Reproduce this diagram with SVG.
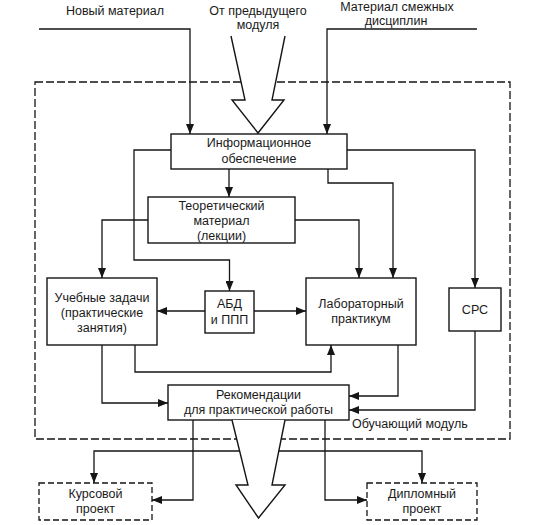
<svg xmlns="http://www.w3.org/2000/svg" width="537" height="525" viewBox="0 0 537 525">
<style>
  .box{fill:#fff;stroke:#151515;stroke-width:1.4}
  .dbox{fill:#fff;stroke:#151515;stroke-width:1.3;stroke-dasharray:6,3}
  .ar{fill:none;stroke:#151515;stroke-width:1.3;marker-end:url(#ah)}
  .big{fill:#fff;stroke:none}
  .bigo{fill:none;stroke:#151515;stroke-width:1.4;stroke-linejoin:miter}
  text{font-family:"Liberation Sans",Arial,sans-serif;font-size:12.5px;fill:#1a1a1a;text-anchor:middle}
  .st{text-anchor:start}
</style>
<defs>
  <marker id="ah" markerUnits="userSpaceOnUse" markerWidth="10" markerHeight="8" refX="10" refY="4" orient="auto">
    <path d="M0,0 L10,4 L0,8 z" fill="#151515"/>
  </marker>
</defs>

<!-- module boundary -->
<rect id="module" x="35" y="82" width="475" height="357" fill="none" stroke="#151515" stroke-width="1.3" stroke-dasharray="8,3"/>

<!-- top labels -->
<text x="115" y="15">Новый материал</text>
<text x="258" y="15">От предыдущего</text>
<text x="258" y="29">модуля</text>
<text x="397" y="11">Материал смежных</text>
<text x="396" y="25">дисциплин</text>
<text class="st" x="352" y="428">Обучающий модуль</text>

<g id="connectors">
  <path class="ar" d="M39,29 H190 V134"/>
  <path class="ar" d="M477,29 H327 V134"/>
  <path class="ar" d="M229,169 V197"/>
  <path class="ar" d="M171,150 H134 V260 H229.5 V291"/>
  <path class="ar" d="M328,169 V183 H393 V278"/>
  <path class="ar" d="M347,150 H475 V288"/>
  <path class="ar" d="M148,220 H102 V278"/>
  <path class="ar" d="M295,220 H359 V278"/>
  <path class="ar" d="M205,311 H157"/>
  <path class="ar" d="M254,311 H306"/>
  <path class="ar" d="M102,345 V403 H168"/>
  <path class="ar" d="M135,345 V372 H331 V345"/>
  <path class="ar" d="M398,345 V396 H349"/>
  <path class="ar" d="M475,331 V410 H349"/>
  <path class="ar" d="M193,420 V500 H152"/>
  <path class="ar" d="M325,420 V500 H367"/>
  <path class="ar" d="M245,451 H94 V483"/>
  <path class="ar" d="M272,451 H422 V483"/>
</g>

<!-- big flow arrows -->
<g id="arrow-in">
  <polygon class="big" points="231,36 245,100 232,100 258,133 284,100 272,100 285,36"/>
  <path class="bigo" d="M231,36 L245,100 L232,100 L258,133 L284,100 L272,100 L285,36"/>
</g>

<g id="info">
  <rect class="box" x="171" y="134" width="176" height="35"/>
  <text x="259" y="147">Информационное</text>
  <text x="259" y="163">обеспечение</text>
</g>

<g id="theory">
  <rect class="box" x="148" y="197" width="147" height="46"/>
  <text x="221.5" y="210">Теоретический</text>
  <text x="221.5" y="225">материал</text>
  <text x="221.5" y="240">(лекции)</text>
</g>

<g id="tasks">
  <rect class="box" x="47" y="278" width="110" height="67"/>
  <text x="102" y="302">Учебные задачи</text>
  <text x="102" y="317">(практические</text>
  <text x="102" y="332">занятия)</text>
</g>

<g id="abd">
  <rect class="box" x="205" y="291" width="49" height="42"/>
  <text x="229.5" y="308">АБД</text>
  <text x="229.5" y="324">и ППП</text>
</g>

<g id="lab">
  <rect class="box" x="306" y="278" width="110" height="67"/>
  <text x="361" y="308">Лабораторный</text>
  <text x="361" y="323">практикум</text>
</g>

<g id="srs">
  <rect class="box" x="449" y="288" width="52" height="43"/>
  <text x="475" y="314">СРС</text>
</g>

<g id="recommend">
  <rect class="box" x="168" y="385" width="181" height="35"/>
  <text x="258.5" y="399">Рекомендации</text>
  <text x="258.5" y="414">для практической работы</text>
</g>

<g id="arrow-out">
  <polygon class="big" points="232,420 248,485 236,485 258.5,518 285,485 272,485 285,420"/>
  <path class="bigo" d="M232,420 L248,485 L236,485 L258.5,518 L285,485 L272,485 L285,420"/>
</g>

<g id="course">
  <rect class="dbox" x="39" y="483" width="113" height="37"/>
  <text x="95.5" y="498">Курсовой</text>
  <text x="95.5" y="513">проект</text>
</g>

<g id="diploma">
  <rect class="dbox" x="367" y="483" width="110" height="37"/>
  <text x="422" y="498">Дипломный</text>
  <text x="422" y="513">проект</text>
</g>
</svg>
